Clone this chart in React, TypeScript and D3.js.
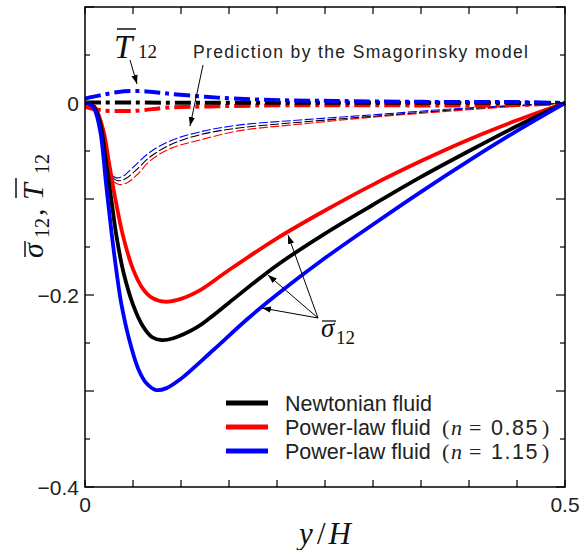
import React from "react";
import * as d3 from "d3";

type P = [number, number];

// Mean shear stress sigma_12 (solid curves)
const sigmaNewtonian: P[] = [[0,0],[0.005,-0.001],[0.01,-0.005],[0.016,-0.022],[0.022,-0.062],[0.028,-0.105],[0.033,-0.14],[0.040,-0.176],[0.050,-0.21],[0.06,-0.232],[0.07,-0.244],[0.08,-0.247],[0.092,-0.245],[0.116,-0.234],[0.13,-0.224],[0.15,-0.208],[0.2,-0.169],[0.25,-0.136],[0.3,-0.106],[0.35,-0.077],[0.4,-0.05],[0.45,-0.024],[0.5,0]];
const sigmaN085: P[] = [[0,0],[0.005,-0.001],[0.01,-0.004],[0.019,-0.028],[0.025,-0.062],[0.032,-0.102],[0.040,-0.14],[0.050,-0.173],[0.06,-0.193],[0.07,-0.203],[0.083,-0.207],[0.1,-0.204],[0.12,-0.195],[0.15,-0.174],[0.2,-0.141],[0.25,-0.112],[0.3,-0.085],[0.35,-0.0605],[0.4,-0.038],[0.45,-0.018],[0.5,0]];
const sigmaN115: P[] = [[0,0],[0.005,-0.001],[0.01,-0.007],[0.016,-0.03],[0.022,-0.085],[0.028,-0.138],[0.033,-0.177],[0.038,-0.21],[0.047,-0.25],[0.0555,-0.277],[0.064,-0.292],[0.074,-0.299],[0.085,-0.297],[0.099,-0.288],[0.134,-0.257],[0.168,-0.226],[0.2,-0.1995],[0.25,-0.1615],[0.3,-0.1265],[0.35,-0.0925],[0.4,-0.06],[0.45,-0.029],[0.5,0]];

// Smagorinsky-model prediction (thin dashed)
const smagNewtonian: P[] = [[0.029,-0.078],[0.034,-0.081],[0.042,-0.079],[0.052,-0.071],[0.068,-0.056],[0.09,-0.043],[0.12,-0.033],[0.16,-0.026],[0.224,-0.02],[0.297,-0.014],[0.4,-0.006],[0.5,0]];
const smagN085: P[] = [[0.03,-0.082],[0.036,-0.085],[0.044,-0.083],[0.054,-0.075],[0.068,-0.06],[0.09,-0.047],[0.12,-0.0385],[0.16,-0.029],[0.224,-0.022],[0.297,-0.015],[0.4,-0.007],[0.5,0]];
const smagN115: P[] = [[0.029,-0.076],[0.033,-0.078],[0.04,-0.076],[0.05,-0.067],[0.068,-0.051],[0.09,-0.039],[0.12,-0.03],[0.16,-0.023],[0.224,-0.0177],[0.297,-0.0125],[0.4,-0.005],[0.5,0]];

// SGS stress T_12 (dash-dot)
const tauNewtonian: P[] = [[0,0.0004],[0.05,0.0004],[0.2,0.0003],[0.4,0.0002],[0.5,0]];
const tauN085: P[] = [[0,-0.004],[0.017,-0.0076],[0.045,-0.0083],[0.06,-0.0075],[0.085,-0.0048],[0.138,-0.0034],[0.208,-0.0024],[0.3,-0.0024],[0.45,-0.0022],[0.5,0]];
const tauN115: P[] = [[0,0.0046],[0.017,0.0083],[0.035,0.0115],[0.054,0.0125],[0.07,0.0115],[0.086,0.0098],[0.138,0.0056],[0.208,0.0028],[0.26,0.0021],[0.35,0.0012],[0.45,0.001],[0.5,0]];

const xTicks = [0, 0.05, 0.1, 0.15, 0.2, 0.25, 0.3, 0.35, 0.4, 0.45, 0.5];
const xTickLabels = ["0", "0.5"];
const yTicks = [0.1, 0.05, 0, -0.05, -0.1, -0.15, -0.2, -0.25, -0.3, -0.35, -0.4];
const yTickLabels = ["0", "−0.2", "−0.4"];
const legendLabels = ["Newtonian fluid", "Power-law fluid", "Power-law fluid"];
const legendN = ["", "0.85", "1.15"];
const colors = ["#000000", "#ff0000", "#0000ff"];

const L = 85, R = 565, T = 7, B = 487;

export default function App() {
  const x = d3.scaleLinear().domain([0, 0.5]).range([L, R]);
  const y = d3.scaleLinear().domain([-0.4, 0.1]).range([B, T]);
  const line = d3.line<P>().x(d => x(d[0])).y(d => y(d[1])).curve(d3.curveCatmullRom.alpha(0.5));

  const sigma = [sigmaN085, sigmaNewtonian, sigmaN115];
  const sigmaCol = [colors[1], colors[0], colors[2]];
  const smag = [smagN085, smagNewtonian, smagN115];
  const tau = [tauN085, tauNewtonian, tauN115];

  const serif = "'Liberation Serif', 'DejaVu Serif', serif";
  const sans = "'Liberation Sans', Arial, sans-serif";

  const isMajorY = (v: number) => Math.abs(Math.round(v * 10) - v * 10) < 1e-6;

  return (
    <svg width={582} height={550} style={{ position: "absolute", left: 0, top: 0, background: "#fff" }}>
      <defs>
        <marker id="arr" viewBox="0 0 10 10" refX={10} refY={5} markerWidth={9} markerHeight={9} markerUnits="userSpaceOnUse" orient="auto">
          <path d="M0,1.5 L10,5 L0,8.5 z" fill="#000" />
        </marker>
      </defs>
      <rect x={0} y={0} width={582} height={550} fill="#fff" />

      {/* Smagorinsky dashed */}
      {smag.map((s, i) => (
        <path key={"sm" + i} d={line(s) || ""} fill="none" stroke={sigmaCol[i]} strokeWidth={1.1} strokeDasharray="9,2.5" />
      ))}
      {/* T12 dash-dot */}
      {tau.map((s, i) => (
        <path key={"t" + i} d={line(s) || ""} fill="none" stroke={sigmaCol[i]} strokeWidth={4} strokeDasharray="16,5,4,5" />
      ))}
      {/* sigma solid */}
      {sigma.map((s, i) => (
        <path key={"s" + i} d={line(s) || ""} fill="none" stroke={sigmaCol[i]} strokeWidth={3.8} strokeLinejoin="round" />
      ))}

      {/* frame */}
      <rect x={L} y={T} width={R - L} height={B - T} fill="none" stroke="#000" strokeWidth={1.5} />
      {xTicks.map((v, i) => (
        <g key={"xt" + i}>
          <line x1={x(v)} x2={x(v)} y1={B} y2={B - 7} stroke="#000" strokeWidth={1.2} />
          <line x1={x(v)} x2={x(v)} y1={T} y2={T + 7} stroke="#000" strokeWidth={1.2} />
        </g>
      ))}
      {yTicks.map((v, i) => {
        const len = isMajorY(v) ? 9 : 5;
        return (
          <g key={"yt" + i}>
            <line x1={L} x2={L + len} y1={y(v)} y2={y(v)} stroke="#000" strokeWidth={1.2} />
            <line x1={R} x2={R - len} y1={y(v)} y2={y(v)} stroke="#000" strokeWidth={1.2} />
          </g>
        );
      })}
      {[0, -0.2, -0.4].map((v, i) => (
        <text key={"yl" + i} x={79} y={y(v) + 8} textAnchor="end" fontFamily={sans} fontSize={21} fill="#222">{yTickLabels[i]}</text>
      ))}
      {[0, 0.5].map((v, i) => (
        <text key={"xl" + i} x={x(v)} y={512} textAnchor="middle" fontFamily={sans} fontSize={21} fill="#222">{xTickLabels[i]}</text>
      ))}

      {/* axis titles */}
      <text x={325} y={544} textAnchor="middle" fontFamily={serif} fontSize={31} fill="#111">
        <tspan fontStyle="italic">y</tspan><tspan dx={4}>/</tspan><tspan dx={3} fontStyle="italic">H</tspan>
      </text>
      <g transform="translate(43,258) rotate(-90)" fill="#111">
        <text x={0} y={0} fontFamily={serif} fontSize={30} fontStyle="italic">σ</text>
        <line x1={1} x2={17} y1={-18} y2={-18} stroke="#111" strokeWidth={1.5} />
        <text x={20} y={6} fontFamily={serif} fontSize={20}>12</text>
        <text x={42} y={0} fontFamily={serif} fontSize={30}>,</text>
        <text x={58} y={0} fontFamily={serif} fontSize={30} fontStyle="italic">T</text>
        <line x1={60} x2={80} y1={-27} y2={-27} stroke="#111" strokeWidth={1.5} />
        <text x={84} y={6} fontFamily={serif} fontSize={20}>12</text>
      </g>

      {/* T12 annotation */}
      <g fill="#111">
        <text x={114} y={58} fontFamily={serif} fontSize={33} fontStyle="italic">T</text>
        <line x1={117} x2={136} y1={29} y2={29} stroke="#111" strokeWidth={1.5} />
        <text x={138} y={58} fontFamily={serif} fontSize={19}>12</text>
      </g>
      <line x1={130} y1={60} x2={137} y2={84} stroke="#000" strokeWidth={1} markerEnd="url(#arr)" />

      {/* Smagorinsky annotation */}
      <text x={193} y={58} fontFamily={sans} fontSize={17.5} fill="#222" textLength={335} lengthAdjust="spacing">Prediction by the Smagorinsky model</text>
      <line x1={203} y1={65} x2={190} y2={126} stroke="#000" strokeWidth={1} markerEnd="url(#arr)" />

      {/* sigma annotation */}
      <line x1={318} y1={318} x2={288} y2={235} stroke="#000" strokeWidth={1} markerEnd="url(#arr)" />
      <line x1={318} y1={318} x2={268} y2={275} stroke="#000" strokeWidth={1} markerEnd="url(#arr)" />
      <line x1={318} y1={318} x2={262} y2={308} stroke="#000" strokeWidth={1} markerEnd="url(#arr)" />
      <g fill="#111">
        <text x={321} y={337} fontFamily={serif} fontSize={27} fontStyle="italic">σ</text>
        <line x1={322} x2={336} y1={321} y2={321} stroke="#111" strokeWidth={1.3} />
        <text x={336} y={344} fontFamily={serif} fontSize={19}>12</text>
      </g>

      {/* legend */}
      {legendLabels.map((lab, i) => {
        const yy = 403 + i * 24;
        return (
          <g key={"lg" + i}>
            <line x1={226} x2={268} y1={yy} y2={yy} stroke={colors[i]} strokeWidth={5} />
            <text x={285} y={yy + 8} fontFamily={sans} fontSize={21.5} fill="#222">
              {legendN[i] === "" ? lab : (
                <>
                  <tspan>{lab}</tspan>
                  <tspan x={442} fontFamily={serif} fontSize={22}>(</tspan>
                  <tspan x={451} fontFamily={serif} fontStyle="italic" fontSize={22}>n</tspan>
                  <tspan x={469} fontFamily={serif} fontSize={22}>=</tspan>
                  <tspan x={491} fontSize={21.5} letterSpacing={1.5}>{legendN[i]}</tspan>
                  <tspan x={542} fontFamily={serif} fontSize={22}>)</tspan>
                </>
              )}
            </text>
          </g>
        );
      })}
    </svg>
  );
}
